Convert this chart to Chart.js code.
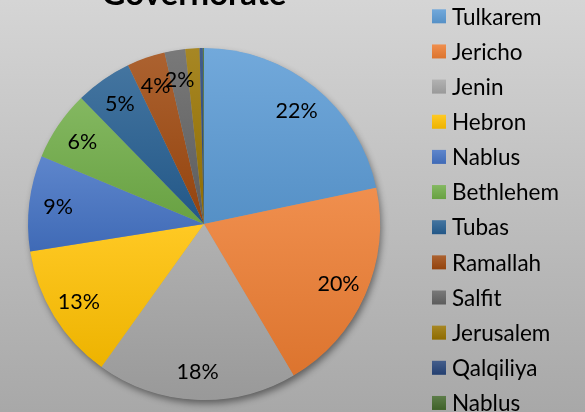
<!DOCTYPE html>
<html><head><meta charset="utf-8">
<script src="https://cdn.jsdelivr.net/npm/chart.js@4"></script>
<style>
html,body{margin:0;padding:0;width:585px;height:412px;overflow:hidden;background:linear-gradient(#d5d5d5,#a8a8a8);}
canvas{display:block;}
</style></head><body>
<canvas id="c" width="585" height="412"></canvas>
<script>
const categories = ['Tulkarem','Jericho','Jenin','Hebron','Nablus','Bethlehem','Tubas','Ramallah','Salfit','Jerusalem','Qalqiliya','Nablus'];
const shares = [21.7,19.8,18.4,12.6,8.8,6.4,5.2,3.5,1.9,1.3,0.3,0.1];
const sliceColors = ['#5B9BD5','#ED7D31','#A5A5A5','#FFC000','#4472C4','#70AD47','#255E91','#9E480E','#636363','#997300','#264478','#43682B'];
const titleText = 'Governorate';
const minLabelShare = 1.5;

function hexRgb(h){h=h.replace('#','');return [0,2,4].map(i=>parseInt(h.substr(i,2),16));}
function mix(hex,t,k){const c=hexRgb(hex);return 'rgb('+c.map((v,i)=>Math.round(v+(t[i]-v)*k)).join(',')+')';}

function sliceGradient(ctx){
  const chart=ctx.chart, area=chart.chartArea, i=ctx.dataIndex, base=sliceColors[i];
  if(!area) return base;
  const cx=(area.left+area.right)/2, cy=(area.top+area.bottom)/2;
  const r=Math.min(area.right-area.left,area.bottom-area.top)/2;
  const total=shares.reduce((a,b)=>a+b,0);
  let before=0; for(let k=0;k<i;k++) before+=shares[k];
  const a0=-Math.PI/2+2*Math.PI*before/total, a1=a0+2*Math.PI*shares[i]/total;
  const ys=[cy,cy+r*Math.sin(a0),cy+r*Math.sin(a1)];
  for(const e of [-Math.PI/2,Math.PI/2,3*Math.PI/2]) if(e>=a0&&e<=a1) ys.push(cy+r*Math.sin(e));
  const y0=Math.min(...ys), y1=Math.max(...ys);
  const g=chart.ctx.createLinearGradient(0,y0,0,Math.max(y1,y0+1));
  g.addColorStop(0,mix(base,[255,255,255],0.14));
  g.addColorStop(1,mix(base,[0,0,0],0.07));
  return g;
}

const shadowPlugin={id:'pieShadow',beforeDatasetsDraw(chart){
  const a=chart.getDatasetMeta(0).data[0]; if(!a) return;
  const ctx=chart.ctx; ctx.save();
  ctx.shadowColor='rgba(0,0,0,0.45)'; ctx.shadowBlur=7; ctx.shadowOffsetX=2; ctx.shadowOffsetY=4;
  ctx.fillStyle='#999'; ctx.beginPath(); ctx.arc(a.x,a.y,a.outerRadius-0.5,0,Math.PI*2); ctx.fill();
  ctx.restore();
}};

const labelPlugin={id:'sliceLabels',afterDatasetsDraw(chart){
  const ctx=chart.ctx; const arcs=chart.getDatasetMeta(0).data;
  ctx.save(); ctx.font='21.5px Lato'; ctx.fillStyle='#000'; ctx.textAlign='center'; ctx.textBaseline='middle';
  arcs.forEach((a,i)=>{
    if(shares[i]<minLabelShare) return;
    const m=(a.startAngle+a.endAngle)/2, r=a.outerRadius*0.835;
    ctx.fillText(Math.round(shares[i])+'%',a.x+r*Math.cos(m),a.y+r*Math.sin(m)+1);
  });
  ctx.restore();
}};

const decorPlugin={id:'decor',afterDraw(chart){
  const ctx=chart.ctx; ctx.save();
  ctx.fillStyle='#000'; ctx.font='bold 33px Lato'; ctx.textAlign='center'; ctx.textBaseline='alphabetic';
  ctx.fillText(titleText,194,5);
  ctx.font='22.5px Lato'; ctx.textAlign='left'; ctx.textBaseline='middle';
  categories.forEach((c,i)=>{
    const y=16.3+i*35.15;
    const g=ctx.createLinearGradient(0,y-7,0,y+7);
    g.addColorStop(0,mix(sliceColors[i],[255,255,255],0.14));
    g.addColorStop(1,mix(sliceColors[i],[0,0,0],0.07));
    ctx.fillStyle=g; ctx.fillRect(432,y-7,14,14);
    ctx.fillStyle='#000'; ctx.fillText(c,452,y+1);
  });
  ctx.restore();
}};

new Chart(document.getElementById('c'),{
  type:'pie',
  data:{labels:categories,datasets:[{data:shares,backgroundColor:sliceGradient,borderWidth:0}]},
  options:{responsive:false,animation:false,devicePixelRatio:1,
    layout:{padding:{left:28,top:48,right:205,bottom:12}},
    plugins:{legend:{display:false},title:{display:false},tooltip:{enabled:false}}},
  plugins:[shadowPlugin,labelPlugin,decorPlugin]
});
</script></body></html>
